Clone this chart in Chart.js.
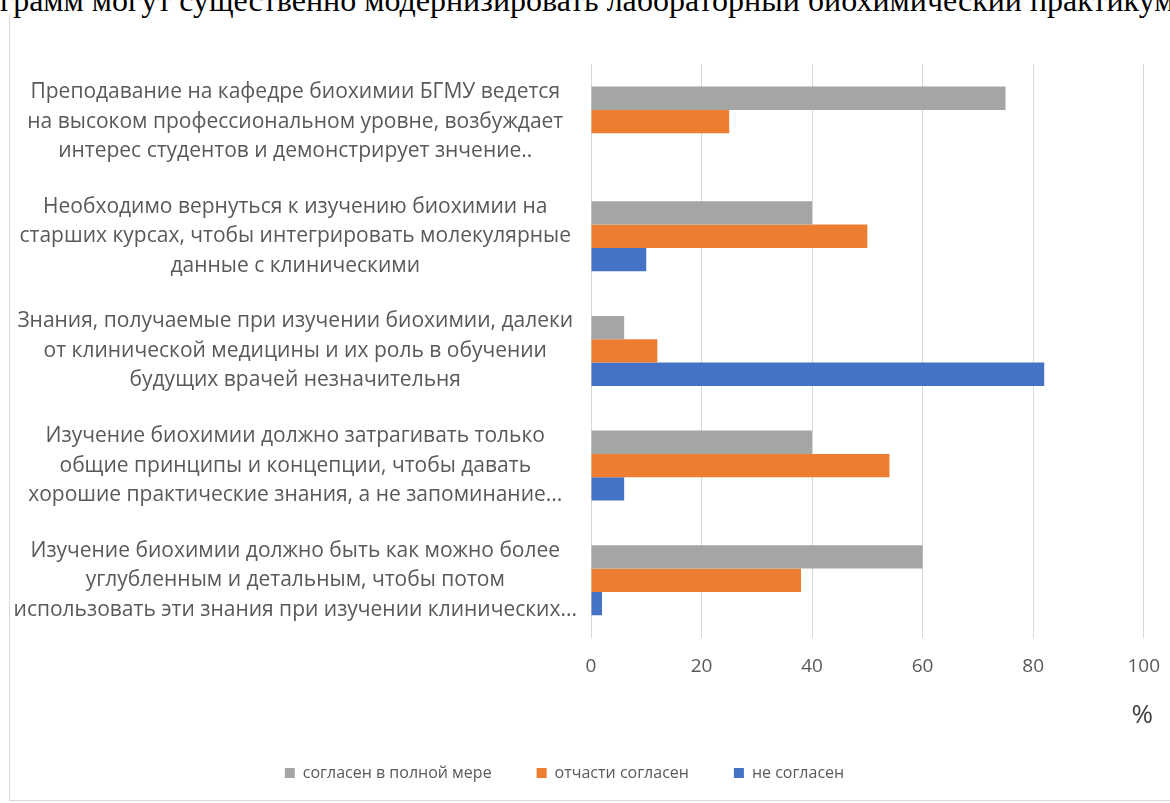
<!DOCTYPE html>
<html lang="ru">
<head>
<meta charset="utf-8">
<title>Биохимия: отношение студентов</title>
<script src="https://cdn.jsdelivr.net/npm/chart.js@4.4.1/dist/chart.umd.min.js"></script>
<style>
  html, body { margin: 0; padding: 0; background: #ffffff; width: 1170px; height: 803px; overflow: hidden; }
  #heading {
    position: absolute; left: 0; top: -16px; width: 1168px;
    font-family: "Liberation Serif", "Times New Roman", serif;
    font-size: 32px; line-height: 32px; color: #000000;
    text-align: justify; text-align-last: justify; white-space: nowrap;
  }
  #frame {
    position: absolute; left: 9px; top: 14px; width: 1160px; height: 786px;
    border-left: 1px solid #d9d9d9; border-bottom: 1px solid #d9d9d9;
  }
  #frame canvas { display: block; }
</style>
</head>
<body>
<div id="heading">грамм могут существенно модернизировать лабораторный биохимический практикум</div>
<div id="frame"><canvas id="chart" width="1160" height="786"></canvas></div>
<script>
// Survey statements (one array of lines per statement)
const statements = [
  ["Преподавание на кафедре биохимии БГМУ ведется", "на высоком профессиональном уровне, возбуждает", "интерес студентов и демонстрирует знчение.."],
  ["Необходимо вернуться к изучению биохимии на", "старших курсах, чтобы интегрировать молекулярные", "данные с клиническими"],
  ["Знания, получаемые при изучении биохимии, далеки", "от клинической медицины и их роль в обучении", "будущих врачей незначительня"],
  ["Изучение биохимии должно затрагивать только", "общие принципы и концепции, чтобы давать", "хорошие практические знания, а не запоминание..."],
  ["Изучение биохимии должно быть как можно более", "углубленным и детальным, чтобы потом", "использовать эти знания при изучении клинических..."]
];

// Share of answers, %
const fullyAgree  = [75, 40, 6, 40, 60];
const partlyAgree = [25, 50, 12, 54, 38];
const disagree    = [0, 10, 82, 6, 2];

const seriesNames = ["согласен в полной мере", "отчасти согласен", "не согласен"];
const seriesColors = ["#A5A5A5", "#ED7D31", "#4472C4"];

const xMin = 0, xMax = 100, xStep = 20;
const unitLabel = "%";

const textGray = "#595959";

const makeSet = (i, values) => ({
  label: seriesNames[i],
  data: values,
  backgroundColor: seriesColors[i],
  borderWidth: 0,
  categoryPercentage: 0.61,
  barPercentage: 1.0
});

// Nudge the legend row a little to the left of the canvas centre
const legendNudge = {
  id: "legendNudge",
  afterLayout(chart, args, opts) {
    const lg = chart.legend;
    if (lg) { lg.left += opts.dx; lg.right += opts.dx; }
  }
};

new Chart(document.getElementById("chart"), {
  type: "bar",
  data: {
    labels: statements,
    datasets: [makeSet(0, fullyAgree), makeSet(1, partlyAgree), makeSet(2, disagree)]
  },
  plugins: [legendNudge],
  options: {
    indexAxis: "y",
    responsive: false,
    animation: false,
    devicePixelRatio: 1,
    layout: { padding: { top: 50, right: 17, bottom: 9, left: 0 } },
    scales: {
      x: {
        min: xMin, max: xMax,
        ticks: {
          stepSize: xStep, padding: 10, color: textGray,
          font: { family: "'Open Sans', sans-serif", size: 19 }
        },
        grid: { color: "#d9d9d9", drawTicks: true, tickLength: 8, tickColor: "rgba(0,0,0,0)", lineWidth: 1 },
        border: { display: false }
      },
      y: {
        grid: { display: false },
        border: { display: false },
        ticks: {
          crossAlign: "center", padding: 6, color: textGray,
          font: { family: "'Open Sans', sans-serif", size: 21, lineHeight: 1.405 }
        },
        afterFit: (scale) => { scale.width = 581; }
      }
    },
    plugins: {
      legendNudge: { dx: -17 },
      // unit of the value axis, placed under the tick labels at the right end
      title: {
        display: true, text: unitLabel, position: "bottom", align: "end",
        weight: 500, color: "#404040",
        font: { family: "'Open Sans', sans-serif", size: 26, lineHeight: 1.2, weight: "normal" },
        padding: { top: 12, bottom: -11.6 }
      },
      legend: {
        position: "bottom",
        labels: {
          boxWidth: 10, boxHeight: 10, padding: 45, color: textGray,
          font: { family: "'Open Sans', sans-serif", size: 16 }
        }
      },
      tooltip: { enabled: false }
    }
  }
});
</script>
</body>
</html>
